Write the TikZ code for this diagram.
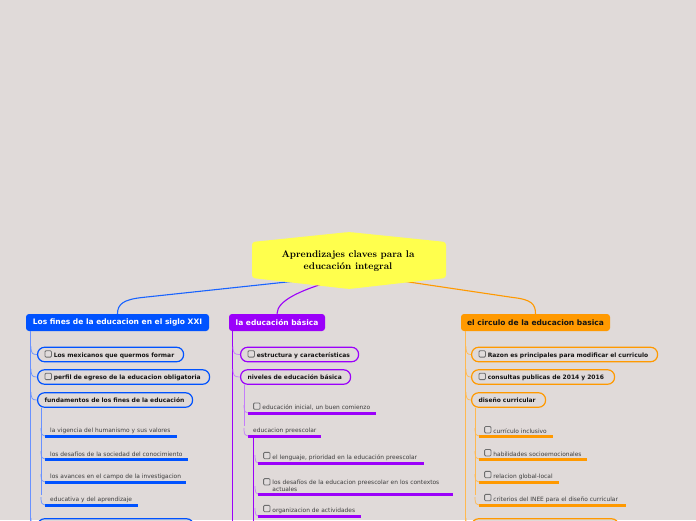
\documentclass[tikz,border=0pt]{standalone}
\usepackage{fontspec}
\setsansfont{DejaVu Sans}
\usetikzlibrary{calc}
\definecolor{bg}{RGB}{224,218,217}
\definecolor{cblue}{RGB}{0,82,255}
\definecolor{lblue}{RGB}{105,145,255}
\definecolor{cpurp}{RGB}{155,0,250}
\definecolor{lpurp}{RGB}{196,125,250}
\definecolor{corange}{RGB}{255,153,0}
\definecolor{lorange}{RGB}{255,185,80}
\definecolor{yel}{RGB}{255,255,77}
\definecolor{boxtext}{RGB}{20,20,20}
\definecolor{subtext}{RGB}{60,60,60}
\definecolor{chkdraw}{RGB}{110,110,110}
\definecolor{chkfill}{RGB}{225,220,220}
\newcommand\chk{\tikz[baseline=-0.3pt]\draw[chkdraw,fill=chkfill,line width=0.8pt,rounded corners=1pt] (0pt,0pt) rectangle (6.4pt,6.4pt);\hspace{2pt}}
\tikzset{
  hdr/.style={rounded corners=3pt, minimum height=17pt, inner sep=0pt,
    font=\sffamily\bfseries\fontsize{7.5}{8}\selectfont},
  cbx/.style={draw, line width=1.2pt, rounded corners=7pt, fill=bg, minimum height=14.5pt,
    anchor=west, inner xsep=7pt, inner ysep=0pt, align=left, text=boxtext,
    font=\sffamily\bfseries\fontsize{6}{7}\selectfont},
  sub/.style={anchor=south west, inner xsep=5pt, inner ysep=2.5pt, align=left, text=subtext,
    font=\sffamily\fontsize{5.9}{7.2}\selectfont},
  uline/.style={line width=3pt},
  trunk/.style={line width=1pt},
  twig/.style={line width=0.7pt},
  link/.style={line width=1.1pt}
}
\newcommand\twig[3]{\draw[twig,#1] ($(#2)+(-#3,-8)$) .. controls ($(#2)+(-#3,-1)$) and ($(#2)+(-#3+1.5,0)$) .. (#2);}
\begin{document}
\begin{tikzpicture}[x=1pt,y=-1pt]
\fill[bg] (0,0) rectangle (696,520);
\useasboundingbox (0,0) rectangle (696,520);
\clip (0,0) rectangle (696,520);

% headers
\node[hdr, fill=cblue, text=white, minimum width=183pt] (bh) at (117.5,322.5) {Los fines de la educacion en el siglo XXI};
\node[hdr, fill=cpurp, text=white, minimum width=96pt] (ph) at (277,322.5) {la educación básica};
\node[hdr, fill=corange, text=boxtext, minimum width=149pt] (oh) at (535.5,322.5) {el circulo de la educacion basica};

% central node
\coordinate (cB) at (296,281);
\coordinate (cP) at (322,284);
\coordinate (cO) at (402,281);
\draw[link, cblue!90!white] (bh.north) .. controls +(0,-10) and +(-18,2) .. (142,297.5) -- (cB);
\draw[link, cpurp] (ph.north) .. controls +(0,-14) and +(-18,6) .. (cP);
\draw[link, corange] (oh.north) .. controls +(0,-10) and +(18,2) .. (513,297.5) -- (cO);
\fill[yel, rounded corners=3pt] (252,242) -- (349,232) -- (446,242) -- (446,278) -- (349,289) -- (252,278) -- cycle;
\node[font=\bfseries\fontsize{9.7}{12.8}\selectfont, align=center, inner sep=0pt] (center) at (348,261) {Aprendizajes claves para la\\educación integral};

% ---------- blue branch ----------
\draw[trunk, lblue] ($(bh.south west)+(5,0)$) -- ++(0,230);
\node[cbx, draw=cblue, text width=132pt] (b1) at (37,354.5) {\chk Los mexicanos que quermos formar};
\node[cbx, draw=cblue, text width=158pt] (b2) at (37,377) {\chk perfil de egreso de la educacion obligatoria};
\node[cbx, draw=cblue, text width=141pt] (b3) at (37,400) {fundamentos de los fines de la educación};
\node[cbx, draw=cblue, text width=142pt] (b4) at (37,526) {};
\twig{lblue}{b1.west}{6}
\twig{lblue}{b2.west}{6}
\twig{lblue}{b3.west}{6}
\twig{lblue}{b4.west}{6}
\node[sub, text width=122pt] (bs1) at (45,436) {la vigencia del humanismo y sus valores};
\node[sub, text width=133pt] (bs2) at (45,459) {los desafíos de la sociedad del conocimiento};
\node[sub, text width=131pt] (bs3) at (45,482) {los avances en el campo de la investigacion};
\node[sub, text width=83pt] (bs4) at (45,505) {educativa y del aprendizaje};
\foreach \n in {bs1,bs2,bs3,bs4}{\draw[uline, cblue] (\n.south west) -- (\n.south east);}
\draw[twig, lblue] ($(b3.south west)+(4,0)$) -- ($(bs4.south west)+(-4,-10)$);
\foreach \n in {bs1,bs2,bs3,bs4}{\twig{lblue}{\n.south west}{4}}

% ---------- purple branch ----------
\draw[trunk, cpurp] ($(ph.south west)+(4,0)$) -- ++(0,230);
\node[cbx, draw=cpurp, text width=104pt] (p1) at (240,354.5) {\chk estructura y características};
\node[cbx, draw=cpurp, text width=96pt] (p2) at (240,377) {niveles de educación básica};
\twig{lpurp}{p1.west}{7}
\twig{lpurp}{p2.west}{7}
\node[sub, text width=118pt] (ps1) at (248,413) {\chk educación inicial, un buen comienzo};
\node[sub, text width=63pt] (ps2) at (248,436) {\mbox{educacion preescolar}};
\foreach \n in {ps1,ps2}{\draw[uline, cpurp] (\n.south west) -- (\n.south east);}
\draw[twig, lpurp] ($(p2.south west)+(4,0)$) -- ($(ps2.south west)+(-4,-10)$);
\foreach \n in {ps1,ps2}{\twig{lpurp}{\n.south west}{4}}
\node[sub, text width=156pt] (pss1) at (258,463) {\chk el lenguaje, prioridad en la educación preescolar};
\node[sub, text width=185pt] (pss2) at (258,494) {\raisebox{1.5pt}{\chk}\parbox[c]{172pt}{los desafíos de la educacion preescolar en los contextos\\actuales}};
\node[sub, text width=93pt] (pss3) at (258,516) {\chk organizacion de actividades};
\foreach \n in {pss1,pss2,pss3}{\draw[uline, cpurp] (\n.south west) -- (\n.south east);}
\draw[trunk, cpurp] ($(ps2.south west)+(5,0)$) -- ++(0,100);
\foreach \n in {pss1,pss2,pss3}{\twig{lpurp}{\n.south west}{3}}

% ---------- orange branch ----------
\draw[trunk, lorange] ($(oh.south west)+(5,0)$) -- ++(0,230);
\node[cbx, draw=corange, text width=172pt] (o1) at (471,354.5) {\chk Razon es principales para modificar el curriculo};
\node[cbx, draw=corange, text width=129pt] (o2) at (471,377) {\chk consultas publicas de 2014 y 2016};
\node[cbx, draw=corange, text width=60pt] (o3) at (471,400) {diseño curricular};
\node[cbx, draw=corange, text width=133pt] (o4) at (471,526) {};
\foreach \n in {o1,o2,o3,o4}{\twig{lorange}{\n.west}{5}}
\node[sub, text width=64pt] (os1) at (479,436) {\chk currículo inclusivo};
\node[sub, text width=98pt] (os2) at (479,459) {\chk habilidades socioemocionales};
\node[sub, text width=70pt] (os3) at (479,482) {\chk relacion global-local};
\node[sub, text width=137pt] (os4) at (479,505) {\chk criterios del INEE para el diseño curricular};
\foreach \n in {os1,os2,os3,os4}{\draw[uline, corange] (\n.south west) -- (\n.south east);}
\draw[twig, lorange] ($(o3.south west)+(4,0)$) -- ($(os4.south west)+(-4,-10)$);
\foreach \n in {os1,os2,os3,os4}{\twig{lorange}{\n.south west}{4}}
\end{tikzpicture}
\end{document}
